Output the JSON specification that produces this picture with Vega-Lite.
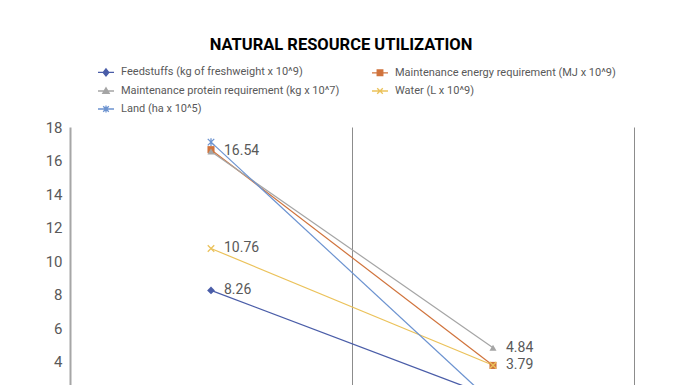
{
  "$schema": "https://vega.github.io/schema/vega-lite/v6.json",
  "autosize": "none",
  "width": 564,
  "height": 302,
  "padding": {"left": 70, "top": 127, "right": 62, "bottom": 0},
  "background": "white",
  "config": {"view": {"stroke": null}, "font": "Roboto"},
  "title": {"text": "NATURAL RESOURCE UTILIZATION", "fontSize": 16.5, "fontWeight": "bold", "color": "#000000", "anchor": "middle", "frame": "group", "dx": -11, "offset": 10},
  "data": {"values": [
    {"cat": "Before", "series": "Feedstuffs (kg of freshweight x 10^9)", "value": 8.26, "label": "8.26"},
    {"cat": "After", "series": "Feedstuffs (kg of freshweight x 10^9)", "value": 1.9},
    {"cat": "Before", "series": "Maintenance energy requirement (MJ x 10^9)", "value": 16.65},
    {"cat": "After", "series": "Maintenance energy requirement (MJ x 10^9)", "value": 3.79, "label": "3.79"},
    {"cat": "Before", "series": "Maintenance protein requirement (kg x 10^7)", "value": 16.54, "label": "16.54"},
    {"cat": "After", "series": "Maintenance protein requirement (kg x 10^7)", "value": 4.84, "label": "4.84"},
    {"cat": "Before", "series": "Water (L x 10^9)", "value": 10.76, "label": "10.76"},
    {"cat": "After", "series": "Water (L x 10^9)", "value": 3.8},
    {"cat": "Before", "series": "Land (ha x 10^5)", "value": 17.1},
    {"cat": "After", "series": "Land (ha x 10^5)", "value": 1.55}
  ]},
  "encoding": {
    "x": {"field": "cat", "type": "nominal", "sort": ["Before", "After"],
      "scale": {"type": "band", "paddingInner": 0, "paddingOuter": 0},
      "axis": {"title": null, "grid": true, "bandPosition": 1, "gridColor": "#8c8c8c", "gridWidth": 1, "domain": false, "ticks": false, "labels": false}},
    "y": {"field": "value", "type": "quantitative",
      "scale": {"domain": [0, 18], "nice": false, "zero": true},
      "axis": {"title": null, "grid": false, "values": [4, 6, 8, 10, 12, 14, 16, 18], "domainColor": "#a6a6a6", "domainWidth": 2, "ticks": false, "labelPadding": 8, "labelFontSize": 15, "labelColor": "#595959"}},
    "color": {"field": "series", "type": "nominal",
      "scale": {
        "domain": ["Feedstuffs (kg of freshweight x 10^9)", "Maintenance energy requirement (MJ x 10^9)", "Maintenance protein requirement (kg x 10^7)", "Water (L x 10^9)", "Land (ha x 10^5)"],
        "range": ["#4a5da8", "#d0733c", "#a5a5a5", "#ebc25a", "#6c93d0"]},
      "legend": {
        "orient": "none", "legendX": 27, "legendY": -64, "columns": 2, "direction": "horizontal", "title": null,
        "labelFontSize": 11, "labelColor": "#595959", "labelLimit": 0, "symbolSize": 256, "columnPadding": 29, "rowPadding": 3, "labelOffset": 6,
        "symbolStrokeWidth": 1.5,
        "encode": {"symbols": {"update": {
          "shape": {"signal": "indexof(['Feedstuffs (kg of freshweight x 10^9)','Maintenance energy requirement (MJ x 10^9)','Maintenance protein requirement (kg x 10^7)','Water (L x 10^9)','Land (ha x 10^5)'], datum.value) == 0 ? 'M-1,0H1M0,-0.45L0.35,0L0,0.45L-0.35,0Z' : indexof(['Feedstuffs (kg of freshweight x 10^9)','Maintenance energy requirement (MJ x 10^9)','Maintenance protein requirement (kg x 10^7)','Water (L x 10^9)','Land (ha x 10^5)'], datum.value) == 1 ? 'M-1,0H1M-0.35,-0.35H0.35V0.35H-0.35Z' : indexof(['Feedstuffs (kg of freshweight x 10^9)','Maintenance energy requirement (MJ x 10^9)','Maintenance protein requirement (kg x 10^7)','Water (L x 10^9)','Land (ha x 10^5)'], datum.value) == 2 ? 'M-1,0H1M0,-0.4L0.4,0.3H-0.4Z' : indexof(['Feedstuffs (kg of freshweight x 10^9)','Maintenance energy requirement (MJ x 10^9)','Maintenance protein requirement (kg x 10^7)','Water (L x 10^9)','Land (ha x 10^5)'], datum.value) == 3 ? 'M-1,0H1M-0.35,-0.35L0.35,0.35M-0.35,0.35L0.35,-0.35' : 'M-1,0H1M-0.35,-0.35L0.35,0.35M-0.35,0.35L0.35,-0.35M0,-0.45V0.45'"},
          "fill": {"signal": "scale('color', datum.value)"},
          "stroke": {"signal": "scale('color', datum.value)"},
          "strokeWidth": {"value": 1.3}
        }}}
      }}
  },
  "layer": [
    {"mark": {"type": "line", "strokeWidth": 1.2}},
    {"transform": [{"filter": "datum.series == 'Feedstuffs (kg of freshweight x 10^9)'"}],
     "mark": {"type": "point", "shape": "diamond", "filled": true, "size": 60, "opacity": 1}},
    {"transform": [{"filter": "datum.series == 'Maintenance energy requirement (MJ x 10^9)'"}],
     "mark": {"type": "point", "shape": "square", "filled": true, "size": 50, "opacity": 1}},
    {"transform": [{"filter": "datum.series == 'Maintenance protein requirement (kg x 10^7)'"}],
     "mark": {"type": "point", "shape": "triangle-up", "filled": true, "size": 50, "opacity": 1}},
    {"transform": [{"filter": "datum.series == 'Water (L x 10^9)'"}],
     "mark": {"type": "point", "shape": "M-1,-1L1,1M-1,1L1,-1", "filled": false, "size": 42, "strokeWidth": 1.3, "opacity": 1}},
    {"transform": [{"filter": "datum.series == 'Land (ha x 10^5)'"}],
     "mark": {"type": "point", "shape": "M-1,-1L1,1M-1,1L1,-1M0,-1.2V1.2", "filled": false, "size": 42, "strokeWidth": 1.3, "opacity": 1}},
    {"transform": [{"filter": "isValid(datum.label)"}],
     "mark": {"type": "text", "align": "left", "baseline": "middle", "dx": 13, "fontSize": 14, "color": "#595959"},
     "encoding": {"text": {"field": "label"}, "color": {"value": "#595959"}}}
  ]
}
